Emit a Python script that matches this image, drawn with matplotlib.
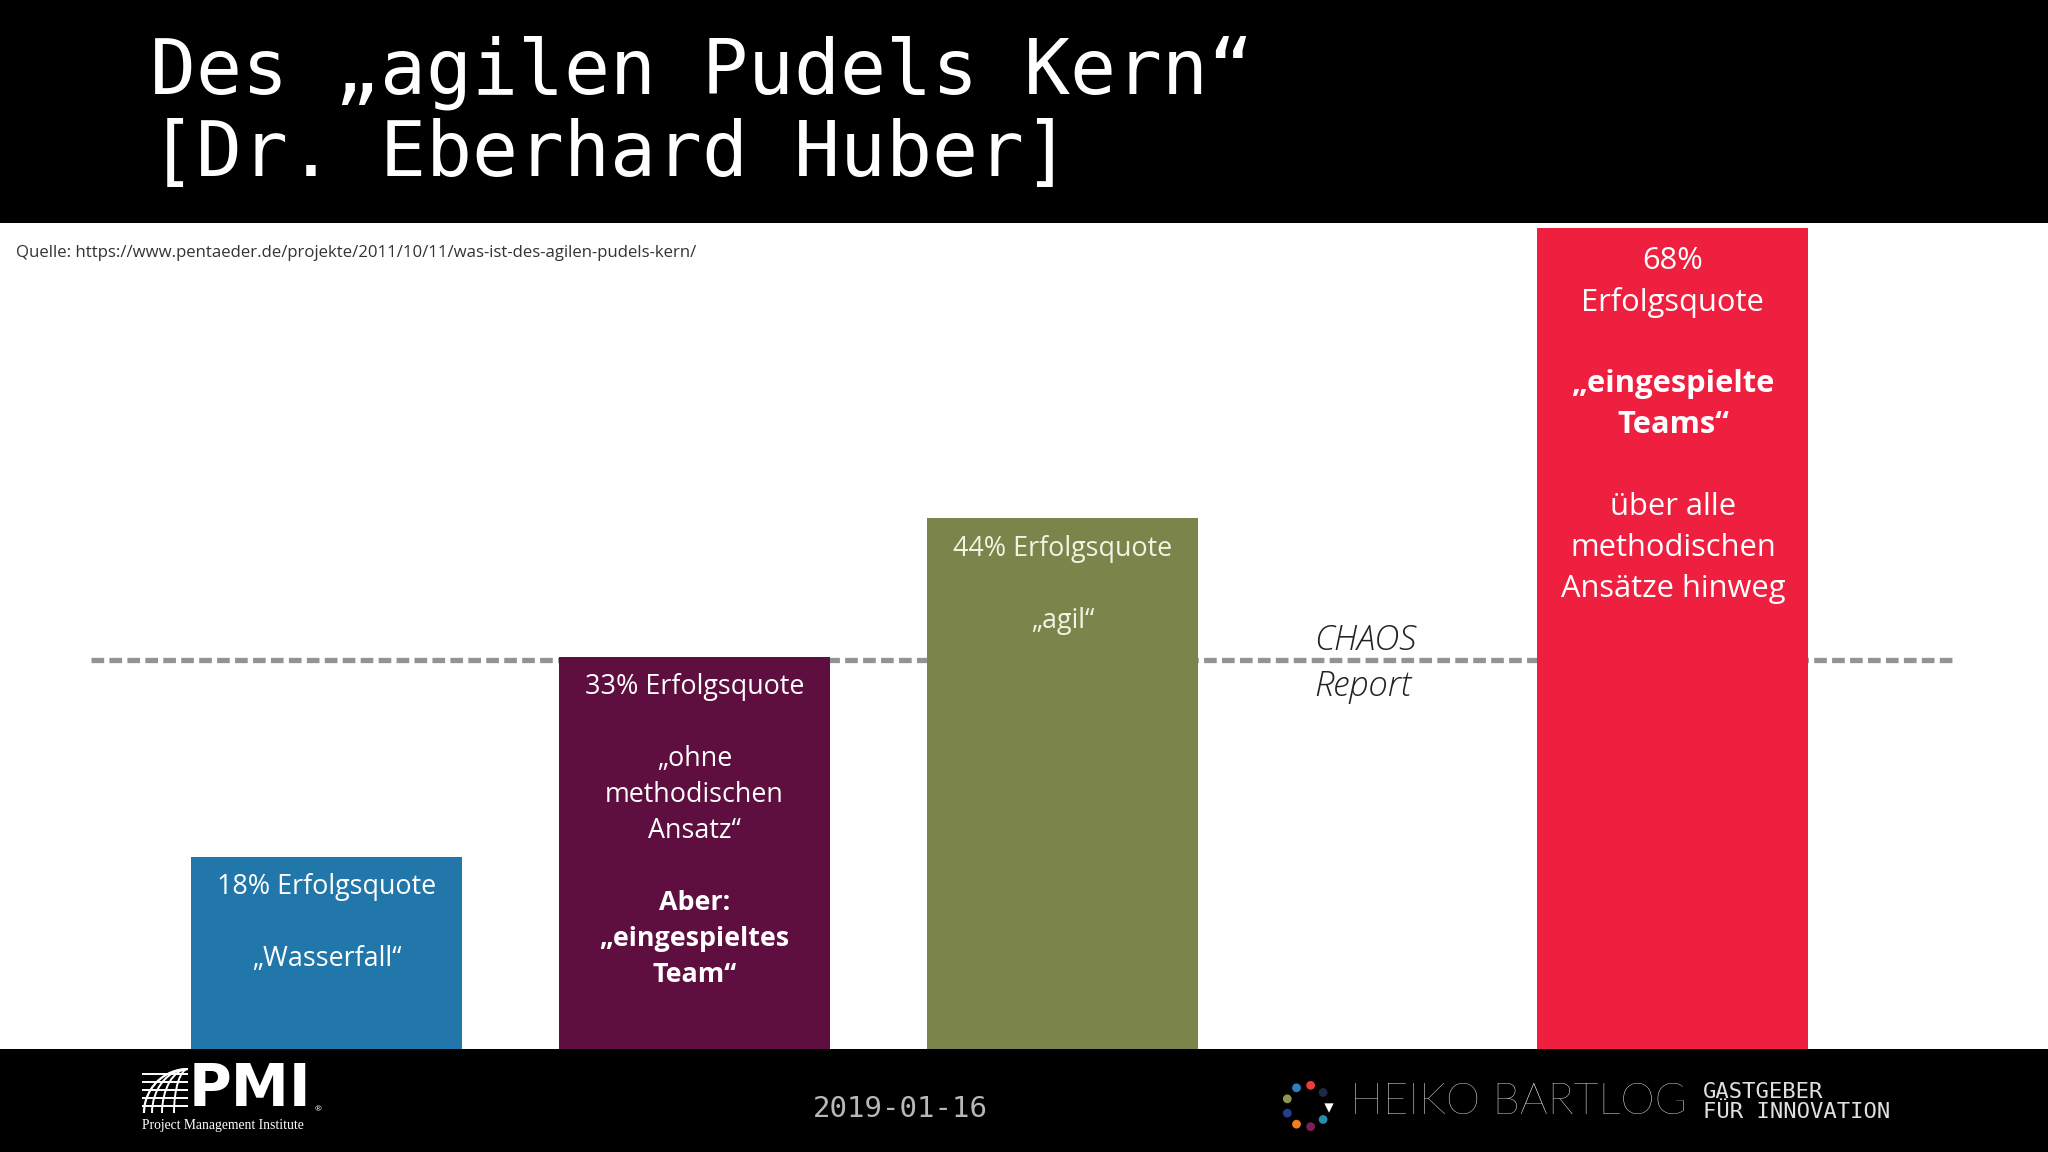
import numpy as np
import matplotlib
matplotlib.use("Agg")
import matplotlib.pyplot as plt
from matplotlib.patches import Circle, Rectangle, Ellipse

plt.rcParams['font.family'] = ['Open Sans', 'DejaVu Sans']

# --------------------- data ---------------------
categories = ["Wasserfall", "ohne methodischen Ansatz", "agil", "eingespielte Teams"]
quotes = [18, 33, 44, 68]                  # Erfolgsquote laut Beschriftung (%)
bar_heights = [15.9, 32.5, 44.0, 68.0]     # Balkenhoehe
chaos_level = 32.2                         # CHAOS Report Linie
bar_pos = [0, 1, 2, 3.66]
bar_colors = ["#2176aa", "#5e0f3f", "#7b844b", "#ee1f3f"]
text_colors = ["white", "white", "#f4f2e2", "white"]

# Textzeilen in den Balken: (Text, fett)
bar_lines = [
    [(f"{quotes[0]}% Erfolgsquote", False), ("", False), ("„Wasserfall“", False)],
    [(f"{quotes[1]}% Erfolgsquote", False), ("", False), ("„ohne", False),
     ("methodischen", False), ("Ansatz“", False), ("", False), ("Aber:", True),
     ("„eingespieltes", True), ("Team“", True)],
    [(f"{quotes[2]}% Erfolgsquote", False), ("", False), ("„agil“", False)],
    [(f"{quotes[3]}%", False), ("Erfolgsquote", False), ("", False),
     ("„eingespielte", True), ("Teams“", True), ("", False), ("über alle", False),
     ("methodischen", False), ("Ansätze hinweg", False)],
]
line_first = [30, 30, 31, 33]   # px unter Balkenoberkante
line_step = [36, 36, 36, 41]    # px pro Zeile
line_size = [19.4, 19.4, 19.4, 22.2]

title_lines = ["Des „agilen Pudels Kern“", "[Dr. Eberhard Huber]"]
source = "Quelle: https://www.pentaeder.de/projekte/2011/10/11/was-ist-des-agilen-pudels-kern/"
date = "2019-01-16"

PX = 72 / 100  # px -> pt bei dpi 100

# --------------------- figure ---------------------
fig = plt.figure(figsize=(20.48, 11.52), dpi=100, facecolor="black")
ax = fig.add_axes([0, 103 / 1152, 1, 826 / 1152])
ax.set_facecolor("white")
ax.set_xlim(-0.889, 4.680)
ax.set_ylim(0, 68.43)
ax.axis("off")
ax.add_patch(Rectangle((0, 0), 1, 1, transform=ax.transAxes, color="white", zorder=0))

ax.hlines(chaos_level, -0.642, 4.428, colors="#939393", linewidth=3.8,
          linestyles=(0, (2.4, 1.0)), zorder=1)

ax.bar(bar_pos, bar_heights, width=0.737, color=bar_colors, zorder=2)

for i in range(len(bar_pos)):
    for j, (txt, bold) in enumerate(bar_lines[i]):
        if not txt:
            continue
        off = (line_first[i] + j * line_step[i]) * PX
        ax.annotate(txt, xy=(bar_pos[i], bar_heights[i]), xytext=(0, -off),
                    textcoords="offset points", ha="center", va="center",
                    fontsize=line_size[i], color=text_colors[i],
                    fontweight="bold" if bold else "normal", zorder=3)

ax.annotate("CHAOS", xy=(2.684, chaos_level), xytext=(0, 20 * PX), textcoords="offset points",
            ha="left", va="center", fontsize=25, style="italic", fontweight="light",
            color="#222222", zorder=3)
ax.annotate("Report", xy=(2.684, chaos_level), xytext=(0, -26 * PX), textcoords="offset points",
            ha="left", va="center", fontsize=25, style="italic", fontweight="light",
            color="#222222", zorder=3)

# --------------------- title, source, footer ---------------------
fig.text(150 / 2048, 1 - 94 / 1152, title_lines[0], ha="left", va="baseline",
         fontsize=55, family="DejaVu Sans Mono", color="white")
fig.text(150 / 2048, 1 - 176 / 1152, title_lines[1], ha="left", va="baseline",
         fontsize=55, family="DejaVu Sans Mono", color="white")
fig.text(16 / 2048, 1 - 253 / 1152, source, ha="left", va="center",
         fontsize=12.1, color="#333333")

fig.text(900 / 2048, 1 - 1109 / 1152, date, ha="center", va="center",
         fontsize=21, family="DejaVu Sans Mono", color="#b8b8b8")

# footer logos in pixel coordinates
lg = fig.add_axes([0, 0, 1, 1], facecolor="none")
lg.set_xlim(0, 2048)
lg.set_ylim(1152, 0)
lg.axis("off")

# PMI
clip = Rectangle((142, 1068), 46, 45, transform=lg.transData)
globe = Circle((188, 1113), 44, facecolor="none", edgecolor="white", linewidth=1.6)
lg.add_patch(globe)
globe.set_clip_path(clip)
for yy in [1074, 1082, 1090, 1098, 1106]:
    l, = lg.plot([142, 188], [yy, yy], color="white", linewidth=1.4)
    l.set_clip_path(clip)
for r in [14, 26, 36]:
    e = Ellipse((188, 1113), 2 * r, 88, facecolor="none", edgecolor="white", linewidth=1.4)
    lg.add_patch(e)
    e.set_clip_path(clip)
lg.text(189, 1090, "PMI", ha="left", va="center", fontsize=42, fontweight="bold",
        family="DejaVu Sans", color="white")
lg.text(318, 1110, "®", ha="center", va="center", fontsize=6, color="white")
lg.text(142, 1125, "Project Management Institute", ha="left", va="center",
        fontsize=9.8, family="Liberation Serif", color="white")

# Heiko Bartlog
dot_cols = ["#ef3b3b", "#2c7fc0", "#8a9652", "#233e8c", "#f07f1f", "#7b1f58", "#2a8bb0", "#1e2a44"]
dot_ang = [80, 120, 160, 200, 240, 280, 320, 40]
cx, cy, rr = 1307, 1106, 21
for c, a in zip(dot_cols, dot_ang):
    lg.scatter(cx + rr * np.cos(np.radians(a)), cy - rr * np.sin(np.radians(a)),
               s=40, color=c, edgecolors="none")
lg.scatter(cx + rr + 1, cy + 2, marker="v", s=45, color="white", edgecolors="none")
lg.text(1350, 1103, "HEIKO BARTLOG", ha="left", va="center", fontsize=31.5,
        family="Lato", fontweight="light", color="#f2f2f2")
lg.text(1703, 1092, "GASTGEBER", ha="left", va="center", fontsize=16,
        family="DejaVu Sans Mono", color="#e0e0e0")
lg.text(1703, 1112, "FÜR INNOVATION", ha="left", va="center", fontsize=16,
        family="DejaVu Sans Mono", color="#e0e0e0")

fig.savefig("out.png", dpi=100, facecolor="black")
